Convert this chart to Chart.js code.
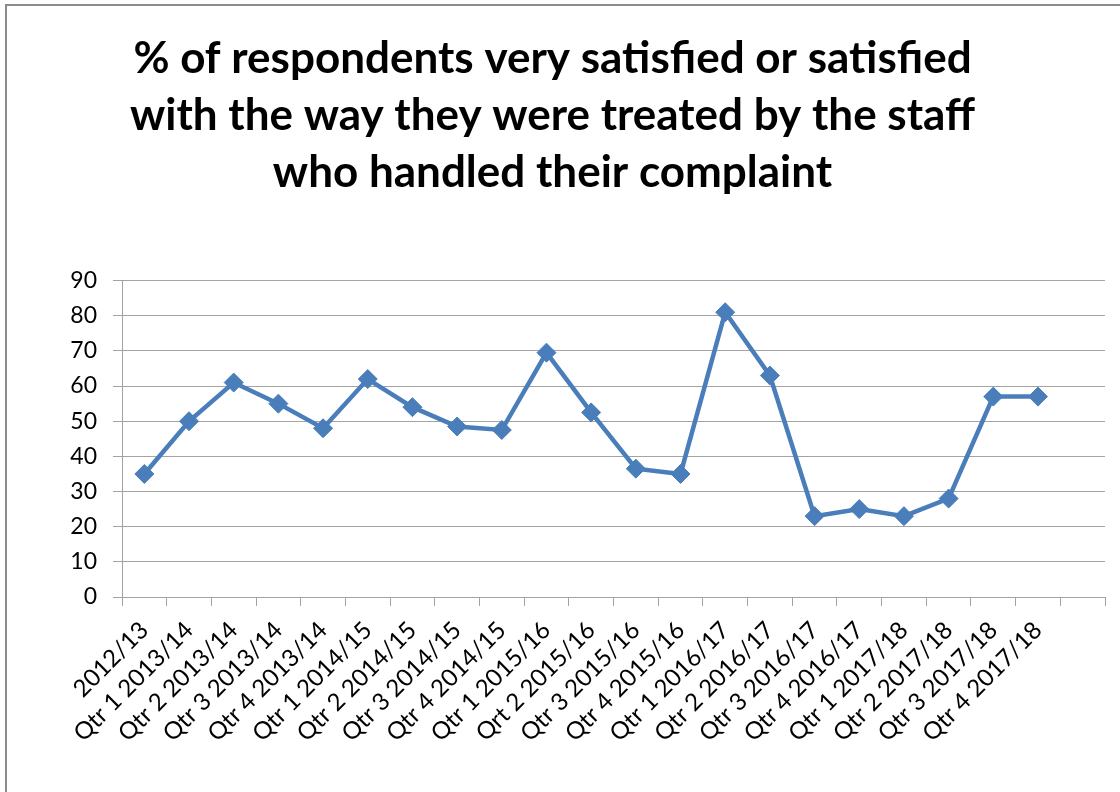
<!DOCTYPE html>
<html>
<head>
<meta charset="utf-8">
<script src="https://cdn.jsdelivr.net/npm/chart.js@4/dist/chart.umd.min.js"></script>
<style>
  html, body { margin: 0; padding: 0; background: #fff; }
  #wrap { position: relative; width: 1120px; height: 792px; overflow: hidden; }
  #frame { position: absolute; left: 5px; top: 4px; width: 1200px; height: 900px;
           border: 2px solid #8c8c8c; box-sizing: border-box; }
  canvas { position: absolute; left: 0; top: 0; }
</style>
</head>
<body>
<div id="wrap">
  <div id="frame"></div>
  <canvas id="satisfactionChart" width="1120" height="792"></canvas>
</div>
<script>
const titleLines = [
    '% of respondents very satisfied or satisfied',
    'with the way they were treated by the staff',
    'who handled their complaint'
];

const quarters = [
    '2012/13',
    'Qtr 1 2013/14', 'Qtr 2 2013/14', 'Qtr 3 2013/14', 'Qtr 4 2013/14',
    'Qtr 1 2014/15', 'Qtr 2 2014/15', 'Qtr 3 2014/15', 'Qtr 4 2014/15',
    'Qtr 1 2015/16', 'Qrt 2 2015/16', 'Qtr 3 2015/16', 'Qtr 4 2015/16',
    'Qtr 1 2016/17', 'Qtr 2 2016/17', 'Qtr 3 2016/17', 'Qtr 4 2016/17',
    'Qtr 1 2017/18', 'Qtr 2 2017/18', 'Qtr 3 2017/18', 'Qtr 4 2017/18',
    ''
];

const satisfiedPct = [
    35,
    50, 61, 55, 48,
    62, 54, 48.5, 47.5,
    69.5, 52.5, 36.5, 35,
    81, 63, 23, 25,
    23, 28, 57, 57
];

const yTicks = [0, 10, 20, 30, 40, 50, 60, 70, 80, 90];

const blue = '#4a7ebb';
const gridGray = '#a3a3a3';

const ctx = document.getElementById('satisfactionChart').getContext('2d');

new Chart(ctx, {
    type: 'line',
    data: {
        labels: quarters,
        datasets: [{
            label: '% satisfied',
            data: satisfiedPct,
            borderColor: blue,
            backgroundColor: blue,
            borderWidth: 4.5,
            pointStyle: 'rectRot',
            pointRadius: 9.5,
            pointBorderWidth: 1,
            pointBackgroundColor: blue,
            pointBorderColor: blue,
            tension: 0,
            fill: false
        }]
    },
    options: {
        responsive: false,
        animation: false,
        layout: { padding: { left: 0, right: 15, top: 0, bottom: 0 } },
        plugins: {
            legend: { display: false },
            tooltip: { enabled: false },
            title: {
                display: true,
                text: titleLines,
                color: '#000',
                font: { family: 'Lato', size: 44, weight: 'bold', lineHeight: 1.3 },
                padding: { top: 30, bottom: 79 }
            }
        },
        scales: {
            x: {
                offset: true,
                grid: {
                    offset: true,
                    drawOnChartArea: false,
                    drawTicks: true,
                    tickLength: 9,
                    color: gridGray
                },
                border: { color: gridGray, width: 1 },
                ticks: {
                    autoSkip: false,
                    maxRotation: 45,
                    minRotation: 45,
                    padding: 10,
                    color: '#000',
                    font: { family: 'Lato', size: 24 }
                },
                afterFit: (scale) => { scale.height = 195; }
            },
            y: {
                min: 0,
                max: 90,
                afterBuildTicks: (scale) => {
                    scale.ticks = yTicks.map(v => ({ value: v }));
                },
                grid: {
                    color: gridGray,
                    tickLength: 9,
                    drawTicks: true
                },
                border: { color: gridGray, width: 1 },
                ticks: {
                    padding: 16,
                    color: '#000',
                    font: { family: 'Lato', size: 23 }
                },
                afterFit: (scale) => { scale.width = 122; }
            }
        }
    }
});
</script>
</body>
</html>
